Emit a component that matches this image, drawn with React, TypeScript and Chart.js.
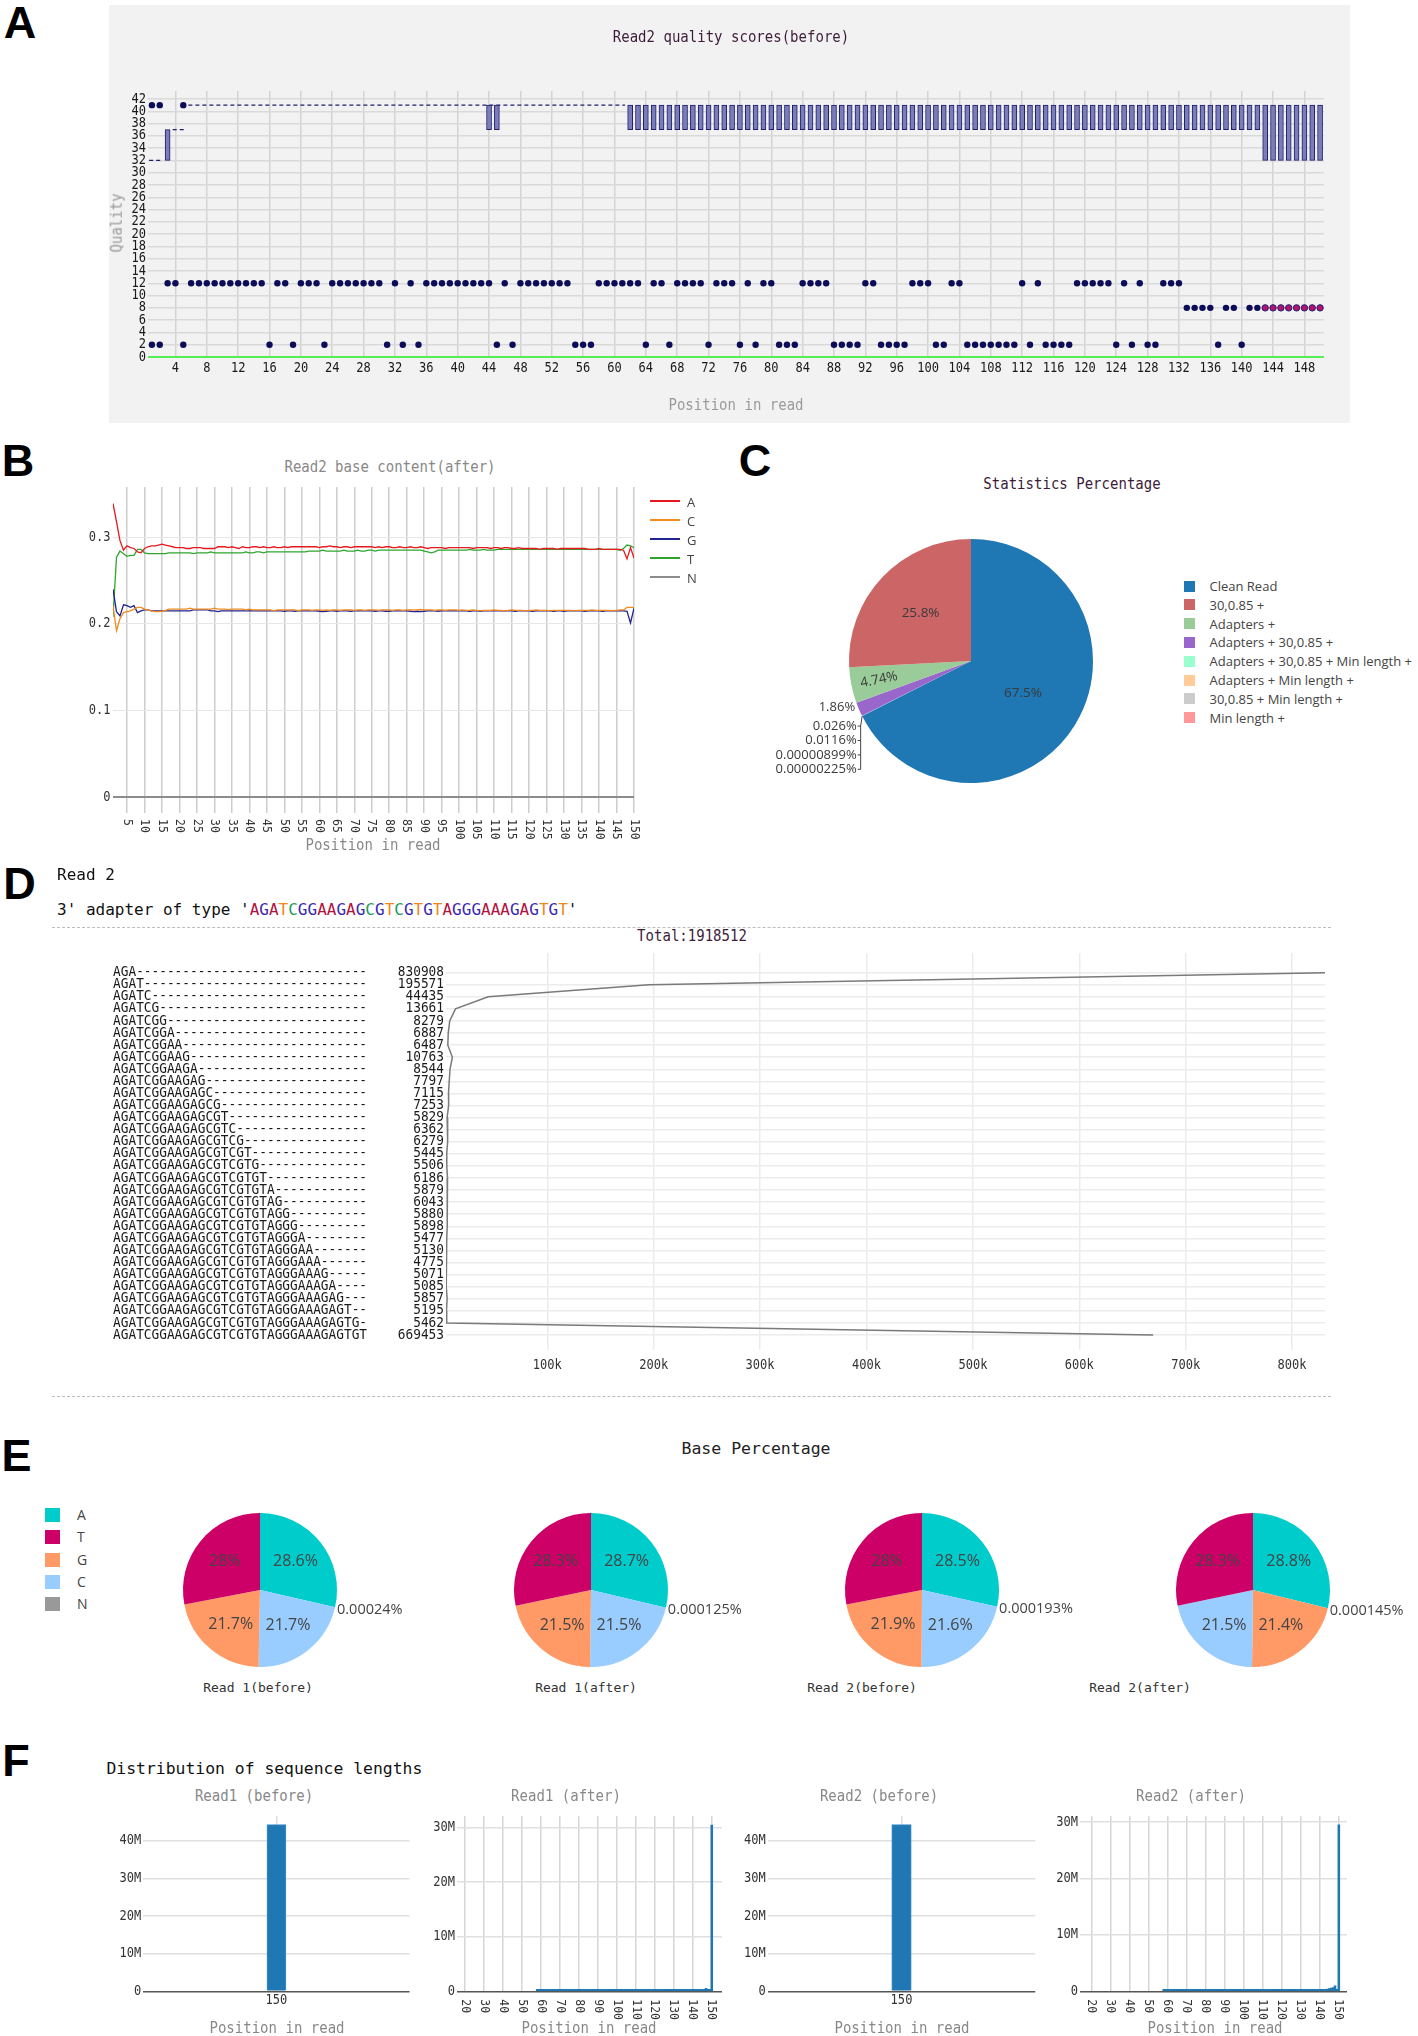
import React, { useEffect, useRef } from 'react';
import { Chart, registerables } from 'chart.js';

Chart.register(...registerables);

const MONO = '"DejaVu Sans Mono", "Liberation Mono", monospace';
const SANS = '"Open Sans", "DejaVu Sans", sans-serif';
const HEAD = '"Liberation Sans", Arial, sans-serif';

// ---------------- Panel A: Read2 quality scores (before) ----------------
const qualityXTicks = [4, 8, 12, 16, 20, 24, 28, 32, 36, 40, 44, 48, 52, 56, 60, 64, 68, 72, 76, 80, 84, 88, 92, 96, 100, 104, 108, 112, 116, 120, 124, 128, 132, 136, 140, 144, 148];
const qualityYTicks = [0, 2, 4, 6, 8, 10, 12, 14, 16, 18, 20, 22, 24, 26, 28, 30, 32, 34, 36, 38, 40, 42];
// [first position, last position, Q1, Q3]
const qualityBoxRuns = [[3, 3, 32, 37], [44, 45, 37, 41], [62, 142, 37, 41], [143, 150, 32, 41]];
// positions where the box collapses to one value: [first, last, value]
const qualityFlatRuns = [[1, 2, 32], [4, 5, 37], [6, 61, 41]];
const outliersQ41 = [1, 2, 5];
const outliersQ12 = [3, 4, 6, 7, 8, 9, 10, 11, 12, 13, 14, 15, 17, 18, 20, 21, 22, 24, 25, 26, 27, 28, 29, 30, 32, 34, 36, 37, 38, 39, 40, 41, 42, 43, 44, 46, 48, 49, 50, 51, 52, 53, 54, 58, 59, 60, 61, 62, 63, 65, 66, 68, 69, 70, 71, 73, 74, 75, 77, 79, 80, 84, 85, 86, 87, 92, 93, 98, 99, 100, 103, 104, 112, 114, 119, 120, 121, 122, 123, 125, 127, 130, 131, 132];
const outliersQ8 = [133, 134, 135, 136, 138, 139, 141, 142];
const outliersQ8Tail = [143, 144, 145, 146, 147, 148, 149, 150];
const outliersQ2 = [1, 2, 5, 16, 19, 23, 31, 33, 35, 45, 47, 55, 56, 57, 64, 67, 72, 76, 78, 81, 82, 83, 88, 89, 90, 91, 94, 95, 96, 97, 101, 102, 105, 106, 107, 108, 109, 110, 111, 113, 115, 116, 117, 118, 124, 126, 128, 129, 137, 140];

// ---------------- Panel B: Read2 base content (after) ----------------
const contentXTicks = [5, 10, 15, 20, 25, 30, 35, 40, 45, 50, 55, 60, 65, 70, 75, 80, 85, 90, 95, 100, 105, 110, 115, 120, 125, 130, 135, 140, 145, 150];
const contentYTicks = [0, 0.1, 0.2, 0.3];
const contentA = [
  0.339, 0.318, 0.296, 0.285, 0.290, 0.288, 0.287, 0.283, 0.282, 0.287,
  0.289, 0.290, 0.290, 0.291, 0.292, 0.291, 0.290, 0.289, 0.288, 0.288,
  0.288, 0.287, 0.287, 0.288, 0.288, 0.288, 0.287, 0.287, 0.287, 0.287,
  0.289, 0.289, 0.289, 0.288, 0.289, 0.288, 0.287, 0.289, 0.288, 0.288,
  0.289, 0.289, 0.288, 0.289, 0.288, 0.288, 0.289, 0.288, 0.288, 0.289,
  0.288, 0.289, 0.289, 0.289, 0.289, 0.289, 0.289, 0.289, 0.289, 0.288,
  0.289, 0.289, 0.290, 0.289, 0.289, 0.288, 0.289, 0.289, 0.288, 0.289,
  0.289, 0.289, 0.289, 0.289, 0.289, 0.288, 0.289, 0.288, 0.289, 0.289,
  0.288, 0.288, 0.289, 0.288, 0.288, 0.289, 0.288, 0.288, 0.289, 0.288,
  0.287, 0.288, 0.288, 0.288, 0.288, 0.287, 0.288, 0.288, 0.288, 0.288,
  0.288, 0.288, 0.288, 0.287, 0.288, 0.288, 0.288, 0.288, 0.287, 0.288,
  0.288, 0.287, 0.288, 0.288, 0.287, 0.287, 0.288, 0.287, 0.287, 0.287,
  0.287, 0.287, 0.286, 0.287, 0.287, 0.287, 0.287, 0.286, 0.287, 0.287,
  0.287, 0.287, 0.287, 0.287, 0.287, 0.287, 0.286, 0.286, 0.286, 0.287,
  0.286, 0.286, 0.286, 0.286, 0.286, 0.286, 0.285, 0.275, 0.288, 0.276,
];
const contentC = [
  0.221, 0.192, 0.206, 0.213, 0.214, 0.215, 0.217, 0.219, 0.219, 0.217,
  0.216, 0.215, 0.214, 0.214, 0.2145, 0.2155, 0.217, 0.217, 0.217, 0.217,
  0.217, 0.217, 0.218, 0.217, 0.217, 0.217, 0.217, 0.217, 0.217, 0.218,
  0.217, 0.217, 0.217, 0.2165, 0.217, 0.217, 0.217, 0.217, 0.216, 0.217,
  0.216, 0.216, 0.216, 0.216, 0.216, 0.216, 0.215, 0.216, 0.216, 0.216,
  0.216, 0.216, 0.216, 0.215, 0.216, 0.216, 0.216, 0.2155, 0.216, 0.216,
  0.2155, 0.216, 0.2155, 0.216, 0.216, 0.2155, 0.216, 0.216, 0.216, 0.2155,
  0.216, 0.216, 0.2155, 0.216, 0.216, 0.216, 0.2155, 0.216, 0.216, 0.216,
  0.2155, 0.216, 0.216, 0.2155, 0.216, 0.216, 0.216, 0.216, 0.2165, 0.216,
  0.216, 0.216, 0.2155, 0.216, 0.216, 0.2155, 0.216, 0.216, 0.216, 0.2155,
  0.216, 0.2155, 0.2155, 0.216, 0.2155, 0.215, 0.2155, 0.2155, 0.2155, 0.216,
  0.2155, 0.2155, 0.215, 0.2155, 0.216, 0.2155, 0.2155, 0.2155, 0.215, 0.2155,
  0.2155, 0.216, 0.2155, 0.2155, 0.2155, 0.215, 0.2155, 0.2155, 0.2155, 0.2155,
  0.2155, 0.2155, 0.215, 0.2155, 0.2155, 0.2155, 0.2155, 0.216, 0.2155, 0.2155,
  0.2155, 0.2155, 0.2155, 0.215, 0.2155, 0.216, 0.216, 0.219, 0.219, 0.219,
];
const contentG = [
  0.240, 0.214, 0.209, 0.222, 0.221, 0.219, 0.221, 0.213, 0.215, 0.216,
  0.216, 0.215, 0.215, 0.215, 0.215, 0.215, 0.215, 0.215, 0.215, 0.215,
  0.215, 0.215, 0.215, 0.216, 0.216, 0.216, 0.216, 0.216, 0.215, 0.215,
  0.214, 0.215, 0.215, 0.215, 0.215, 0.215, 0.215, 0.215, 0.215, 0.215,
  0.215, 0.215, 0.215, 0.215, 0.215, 0.215, 0.215, 0.215, 0.215, 0.2145,
  0.215, 0.215, 0.2145, 0.215, 0.215, 0.215, 0.215, 0.215, 0.215, 0.2145,
  0.214, 0.2145, 0.215, 0.215, 0.2145, 0.215, 0.215, 0.215, 0.2145, 0.215,
  0.215, 0.215, 0.215, 0.215, 0.215, 0.2145, 0.215, 0.215, 0.2145, 0.2145,
  0.215, 0.215, 0.215, 0.215, 0.215, 0.2145, 0.214, 0.2145, 0.214, 0.2145,
  0.215, 0.215, 0.215, 0.2145, 0.215, 0.215, 0.215, 0.215, 0.215, 0.215,
  0.215, 0.215, 0.2145, 0.215, 0.215, 0.2145, 0.215, 0.215, 0.215, 0.215,
  0.215, 0.215, 0.215, 0.215, 0.215, 0.2145, 0.215, 0.215, 0.215, 0.215,
  0.2145, 0.215, 0.215, 0.215, 0.215, 0.215, 0.2145, 0.215, 0.215, 0.2145,
  0.215, 0.215, 0.215, 0.215, 0.215, 0.2145, 0.215, 0.215, 0.215, 0.215,
  0.2145, 0.215, 0.215, 0.215, 0.215, 0.215, 0.215, 0.2145, 0.201, 0.218,
];
const contentT = [
  0.208, 0.277, 0.284, 0.281, 0.278, 0.279, 0.279, 0.286, 0.286, 0.282,
  0.281, 0.281, 0.281, 0.281, 0.281, 0.281, 0.282, 0.282, 0.282, 0.282,
  0.282, 0.282, 0.282, 0.281, 0.282, 0.282, 0.282, 0.282, 0.283, 0.282,
  0.282, 0.282, 0.282, 0.282, 0.282, 0.282, 0.282, 0.282, 0.283, 0.282,
  0.282, 0.283, 0.283, 0.282, 0.283, 0.283, 0.283, 0.283, 0.283, 0.283,
  0.283, 0.283, 0.283, 0.283, 0.283, 0.283, 0.284, 0.284, 0.284, 0.284,
  0.285, 0.284, 0.284, 0.284, 0.284, 0.284, 0.285, 0.284, 0.284, 0.284,
  0.285, 0.284, 0.284, 0.285, 0.285, 0.284, 0.285, 0.285, 0.285, 0.285,
  0.285, 0.285, 0.285, 0.285, 0.285, 0.285, 0.285, 0.285, 0.285, 0.284,
  0.283, 0.282, 0.283, 0.285, 0.285, 0.285, 0.285, 0.285, 0.285, 0.285,
  0.285, 0.285, 0.286, 0.285, 0.285, 0.285, 0.286, 0.285, 0.285, 0.285,
  0.286, 0.286, 0.286, 0.286, 0.286, 0.286, 0.286, 0.286, 0.286, 0.286,
  0.286, 0.286, 0.286, 0.286, 0.286, 0.286, 0.286, 0.286, 0.286, 0.286,
  0.286, 0.286, 0.286, 0.286, 0.286, 0.286, 0.286, 0.286, 0.286, 0.286,
  0.286, 0.286, 0.286, 0.286, 0.286, 0.285, 0.287, 0.291, 0.290, 0.288,
];
const contentN = [
  0, 0, 0, 0, 0, 0, 0, 0, 0, 0, 0, 0, 0, 0, 0, 0, 0, 0, 0, 0, 0, 0, 0, 0, 0,
  0, 0, 0, 0, 0, 0, 0, 0, 0, 0, 0, 0, 0, 0, 0, 0, 0, 0, 0, 0, 0, 0, 0, 0, 0,
  0, 0, 0, 0, 0, 0, 0, 0, 0, 0, 0, 0, 0, 0, 0, 0, 0, 0, 0, 0, 0, 0, 0, 0, 0,
  0, 0, 0, 0, 0, 0, 0, 0, 0, 0, 0, 0, 0, 0, 0, 0, 0, 0, 0, 0, 0, 0, 0, 0, 0,
  0, 0, 0, 0, 0, 0, 0, 0, 0, 0, 0, 0, 0, 0, 0, 0, 0, 0, 0, 0, 0, 0, 0, 0, 0,
  0, 0, 0, 0, 0, 0, 0, 0, 0, 0, 0, 0, 0, 0, 0, 0, 0, 0, 0, 0, 0, 0, 0, 0, 0,
];
const contentSeries = [
  { name: 'A', values: contentA, color: '#e5191d' },
  { name: 'C', values: contentC, color: '#f28a1e' },
  { name: 'G', values: contentG, color: '#232390' },
  { name: 'T', values: contentT, color: '#2ea62e' },
  { name: 'N', values: contentN, color: '#8c8c8c' },
];

// ---------------- Panel C: Statistics Percentage ----------------
const statLabels = ['Clean Read', '30,0.85 +', 'Adapters +', 'Adapters + 30,0.85 +', 'Adapters + 30,0.85 + Min length +', 'Adapters + Min length +', '30,0.85 + Min length +', 'Min length +'];
const statPercent = [67.5, 25.8, 4.74, 1.86, 0.026, 0.0116, 0.00000899, 0.00000225];
const statColors = ['#1f77b4', '#cc6666', '#99cc99', '#9966cc', '#99ffcc', '#ffcc99', '#cccccc', '#ff9999'];
const statDrawOrder = [0, 7, 6, 5, 4, 3, 2, 1];

// ---------------- Panel D: adapter ----------------
const adapterSeq = 'AGATCGGAAGAGCGTCGTGTAGGGAAAGAGTGT';
const adapterLetterColors: Record<string, string> = { A: '#b5123c', G: '#3a2bb0', C: '#1e9e5a', T: '#f0861a' };
const adapterPrefixes = [
  'AGA', 'AGAT', 'AGATC', 'AGATCG', 'AGATCGG', 'AGATCGGA', 'AGATCGGAA', 'AGATCGGAAG',
  'AGATCGGAAGA', 'AGATCGGAAGAG', 'AGATCGGAAGAGC', 'AGATCGGAAGAGCG', 'AGATCGGAAGAGCGT',
  'AGATCGGAAGAGCGTC', 'AGATCGGAAGAGCGTCG', 'AGATCGGAAGAGCGTCGT', 'AGATCGGAAGAGCGTCGTG',
  'AGATCGGAAGAGCGTCGTGT', 'AGATCGGAAGAGCGTCGTGTA', 'AGATCGGAAGAGCGTCGTGTAG',
  'AGATCGGAAGAGCGTCGTGTAGG', 'AGATCGGAAGAGCGTCGTGTAGGG', 'AGATCGGAAGAGCGTCGTGTAGGGA',
  'AGATCGGAAGAGCGTCGTGTAGGGAA', 'AGATCGGAAGAGCGTCGTGTAGGGAAA', 'AGATCGGAAGAGCGTCGTGTAGGGAAAG',
  'AGATCGGAAGAGCGTCGTGTAGGGAAAGA', 'AGATCGGAAGAGCGTCGTGTAGGGAAAGAG', 'AGATCGGAAGAGCGTCGTGTAGGGAAAGAGT',
  'AGATCGGAAGAGCGTCGTGTAGGGAAAGAGTG', 'AGATCGGAAGAGCGTCGTGTAGGGAAAGAGTGT',
];
const adapterCounts = [830908, 195571, 44435, 13661, 8279, 6887, 6487, 10763, 8544, 7797, 7115, 7253, 5829, 6362, 6279, 5445, 5506, 6186, 5879, 6043, 5880, 5898, 5477, 5130, 4775, 5071, 5085, 5857, 5195, 5462, 669453];
const adapterTotal = 1918512;
const adapterXTicks = [100000, 200000, 300000, 400000, 500000, 600000, 700000, 800000];

// ---------------- Panel E: Base Percentage ----------------
const baseReads = ['Read 1(before)', 'Read 1(after)', 'Read 2(before)', 'Read 2(after)'];
const baseA = [28.6, 28.7, 28.5, 28.8];
const baseT = [28, 28.3, 28, 28.3];
const baseG = [21.7, 21.5, 21.9, 21.4];
const baseC = [21.7, 21.5, 21.6, 21.5];
const baseN = [0.00024, 0.000125, 0.000193, 0.000145];
const baseLegend = ['A', 'T', 'G', 'C', 'N'];
const baseColors: Record<string, string> = { A: '#00cccc', T: '#cc0066', G: '#ff9966', C: '#99ccff', N: '#999999' };
const baseSliceOrder = [['A', 'N', 'C', 'G', 'T'], ['A', 'N', 'C', 'G', 'T'], ['A', 'N', 'C', 'G', 'T'], ['A', 'N', 'G', 'C', 'T']];

// ---------------- Panel F: Distribution of sequence lengths ----------------
const lengthBefore = 150;
const read1BeforeCount = 44300000;
const read2BeforeCount = 44300000;
const afterFirstLength = 58;
const read1AfterCounts = [
  18400, 15200, 16900, 14700, 17300, 15800, 16200, 19100, 15400, 17700,
  16600, 18200, 17100, 15900, 19400, 16800, 18700, 17500, 20100, 18300,
  19800, 17900, 21200, 19300, 18600, 22400, 20500, 19700, 23100, 21800,
  20900, 24300, 22600, 21400, 25200, 23700, 22100, 26400, 24800, 23300,
  27600, 25100, 26900, 28300, 25700, 29800, 27400, 30600, 28900, 31700,
  29300, 33100, 30800, 34600, 32200, 35900, 33700, 37800, 35200, 39400,
  36900, 41800, 38700, 43600, 40900, 46200, 44100, 49800, 47300, 53600,
  51200, 58400, 55900, 63700, 61200, 70400, 68900, 79100, 76800, 91300,
  88700, 104600, 118200, 137900, 163400, 196800, 241500, 298700, 372900,
  560000, 230000, 140000, 30420000,
];
const read2AfterCounts = [
  16900, 14300, 17800, 15600, 16100, 18900, 14800, 17200, 16400, 19300,
  17600, 15900, 18800, 17300, 19900, 16700, 20400, 18100, 19500, 21700,
  18900, 22300, 20600, 19800, 23500, 21900, 20700, 24800, 22400, 21300,
  25900, 23800, 22700, 27100, 24600, 26300, 28800, 25400, 27700, 30200,
  26800, 29600, 31900, 28700, 33400, 30500, 35100, 32600, 37300, 34800,
  39200, 36100, 41700, 38900, 44300, 40600, 47200, 43800, 50500, 46900,
  54100, 50700, 58300, 55200, 62800, 59600, 68400, 65100, 74900, 71300,
  82600, 78400, 91800, 87200, 102500, 97600, 115300, 109800, 131200, 146700,
  139500, 168300, 193900, 227400, 268600, 318900, 382700, 461200, 557300,
  640000, 950000, 310000, 29500000,
];
const lengthTicks = [20, 30, 40, 50, 60, 70, 80, 90, 100, 110, 120, 130, 140, 150];
const countTicksBefore = [0, 10000000, 20000000, 30000000, 40000000];
const countTicksAfter = [0, 10000000, 20000000, 30000000];

// ---------------- helpers ----------------
const span = (a: number, b: number) => { const r: number[] = []; for (let i = a; i <= b; i++) r.push(i); return r; };
const setTicks = (vals: number[]) => (s: any) => { s.ticks = vals.map((value) => ({ value })); };
const fixW = (w: number) => (s: any) => { s.width = w; };
const fixH = (h: number) => (s: any) => { s.height = h; };
const fmtM = (v: any) => (Number(v) === 0 ? '0' : `${Number(v) / 1e6}M`);
const fmtPlain = (v: any) => String(v);

const TICK_SIZE = 13.7;
const TICK_SX = 0.88;

const common = (padding: any) => ({
  responsive: false,
  maintainAspectRatio: false,
  animation: false,
  devicePixelRatio: 1,
  events: [],
  layout: { padding },
  plugins: { legend: { display: false }, tooltip: { enabled: false }, title: { display: false } },
});

// Draws tick labels in a slightly condensed monospace face (the labels of the original are narrow).
// spec: { axis, mode: 'left' | 'bottom' | 'bottomRot', pad, format, size?, sx?, color? }
const condensedTicks = (specs: any[]) => ({
  id: 'condensedTicks',
  afterDraw(chart: any) {
    const ctx = chart.ctx;
    for (const sp of specs) {
      const sc = chart.scales[sp.axis];
      const size = sp.size ?? TICK_SIZE;
      const sx = sp.sx ?? TICK_SX;
      ctx.save();
      ctx.font = `${size}px ${MONO}`;
      ctx.fillStyle = sp.color ?? '#2a2a2a';
      ctx.textBaseline = 'middle';
      for (const t of sc.ticks) {
        const label = sp.format(t.value);
        const p = sc.getPixelForValue(t.value);
        ctx.save();
        if (sp.mode === 'left') {
          ctx.translate(sc.right - sp.pad, p);
          ctx.scale(sx, 1);
          ctx.textAlign = 'right';
        } else if (sp.mode === 'bottomRot') {
          ctx.translate(p, sc.top + sp.pad);
          ctx.rotate(Math.PI / 2);
          ctx.scale(sx, 1);
          ctx.textAlign = 'left';
        } else {
          ctx.translate(p, sc.top + sp.pad);
          ctx.scale(sx, 1);
          ctx.textAlign = 'center';
        }
        ctx.fillText(label, 0, 0);
        ctx.restore();
      }
      ctx.restore();
    }
  },
});

function ChartBox({ x, y, w, h, config }: { x: number; y: number; w: number; h: number; config: () => any }) {
  const ref = useRef<HTMLCanvasElement | null>(null);
  useEffect(() => {
    if (!ref.current) return undefined;
    const chart = new Chart(ref.current, config());
    return () => chart.destroy();
  }, []);
  return <canvas ref={ref} width={w} height={h} style={{ position: 'absolute', left: x, top: y, width: w, height: h }} />;
}

function T({ x, y, size, color = '#222', font = MONO, weight = 400, align = 'center', rotate = 0, sx = 1, children }: any) {
  const tx = align === 'center' ? '-50%' : align === 'right' ? '-100%' : '0%';
  const origin = align === 'center' ? 'center center' : align === 'right' ? 'right center' : 'left center';
  return (
    <div
      style={{
        position: 'absolute', left: x, top: y,
        transform: `translate(${tx}, -50%)` + (rotate ? ` rotate(${rotate}deg)` : '') + (sx !== 1 ? ` scaleX(${sx})` : ''),
        transformOrigin: origin,
        fontFamily: font, fontSize: size, fontWeight: weight, color, lineHeight: 1, whiteSpace: 'pre',
      }}
    >
      {children}
    </div>
  );
}

// plotly-style titles: narrow monospace
const TT = (props: any) => <T size={16.5} sx={0.85} {...props} />;

// ---------------- chart configs ----------------
function qualityConfig() {
  const boxes = qualityBoxRuns.flatMap(([a, b, lo, hi]) => span(a, b).map((p) => ({ x: p, y: [lo, hi] })));
  const dots = (ps: number[], q: number) => ps.map((p) => ({ x: p, y: q }));
  const navy = '#1e1e6c';
  return {
    type: 'bar',
    data: {
      datasets: [
        { type: 'line', data: dots(outliersQ8Tail, 8), showLine: false, pointRadius: 3.2, pointBackgroundColor: '#b3136f', pointBorderColor: navy, pointBorderWidth: 1 },
        { type: 'line', data: [...dots(outliersQ41, 41), ...dots(outliersQ12, 12), ...dots(outliersQ8, 8), ...dots(outliersQ2, 2)], showLine: false, pointRadius: 3.2, pointBackgroundColor: '#0c0c58', pointBorderColor: '#0c0c58', pointBorderWidth: 0 },
        { type: 'bar', data: boxes, backgroundColor: '#7b7db9', borderColor: navy, borderWidth: 1, barThickness: 5, borderSkipped: false },
        ...qualityFlatRuns.map(([a, b, q]) => ({
          type: 'line', data: [{ x: a - 0.35, y: q }, { x: b + 0.35, y: q }], borderColor: navy, borderWidth: 1.3, borderDash: [4, 3], pointRadius: 0,
        })),
      ],
    },
    options: {
      ...common({ top: 86, right: 26, left: 0, bottom: 0 }),
      scales: {
        x: {
          type: 'linear', min: 0.5, max: 150.5, offset: false,
          afterBuildTicks: setTicks(qualityXTicks), afterFit: fixH(66),
          grid: { color: '#d3d3d3', lineWidth: 1.5, drawTicks: false, offset: false },
          border: { display: false },
          ticks: { display: false },
        },
        y: {
          type: 'linear', min: 0, max: 43.3,
          afterBuildTicks: setTicks(qualityYTicks), afterFit: fixW(39),
          grid: {
            color: (c: any) => (c.tick && c.tick.value === 0 ? '#55ee55' : '#d9d9d9'),
            lineWidth: (c: any) => (c.tick && c.tick.value === 0 ? 2 : 1.5),
            drawTicks: false,
          },
          border: { display: false },
          ticks: { display: false },
        },
      },
    },
    plugins: [condensedTicks([
      { axis: 'y', mode: 'left', pad: 2, format: fmtPlain, color: '#1a1a1a' },
      { axis: 'x', mode: 'bottom', pad: 11, format: fmtPlain, color: '#1a1a1a' },
    ])],
  };
}

function contentConfig() {
  return {
    type: 'line',
    data: {
      datasets: contentSeries.map((s) => ({
        label: s.name,
        data: s.values.map((v, i) => ({ x: i + 1, y: v })),
        borderColor: s.color, borderWidth: 1.3, pointRadius: 0, fill: false,
      })),
    },
    options: {
      ...common({ top: 7, right: 66, left: 0, bottom: 0 }),
      scales: {
        x: {
          type: 'linear', min: 1, max: 150,
          afterBuildTicks: setTicks(contentXTicks), afterFit: fixH(57),
          grid: { color: '#cdcdcd', lineWidth: 1.5, drawTicks: false },
          border: { display: false },
          ticks: { display: false },
        },
        y: {
          type: 'linear', min: -0.0185, max: 0.358,
          afterBuildTicks: setTicks(contentYTicks), afterFit: fixW(53),
          grid: {
            color: (c: any) => (c.tick && c.tick.value === 0 ? '#8a8a8a' : '#e6e6e6'),
            lineWidth: (c: any) => (c.tick && c.tick.value === 0 ? 2 : 1),
            drawTicks: false,
          },
          border: { display: false },
          ticks: { display: false },
        },
      },
    },
    plugins: [condensedTicks([
      { axis: 'y', mode: 'left', pad: 2.5, format: fmtPlain, color: '#333' },
      { axis: 'x', mode: 'bottomRot', pad: 6, format: fmtPlain, color: '#333', size: 13 },
    ])],
  };
}

const statsLabelPlugin = {
  id: 'statsLabels',
  afterDatasetsDraw(chart: any) {
    const ctx = chart.ctx;
    const meta = chart.getDatasetMeta(0);
    const values = chart.data.datasets[0].data as number[];
    ctx.save();
    ctx.fillStyle = '#3a3a3a';
    ctx.font = `13.5px ${SANS}`;
    ctx.textBaseline = 'middle';
    ctx.textAlign = 'center';
    meta.data.forEach((arc: any, i: number) => {
      const v = values[i];
      if (v < 4) return;
      const p = arc.getProps(['x', 'y', 'startAngle', 'endAngle', 'outerRadius'], true);
      const mid = (p.startAngle + p.endAngle) / 2;
      const f = v > 50 ? 0.5 : v > 10 ? 0.57 : 0.77;
      ctx.save();
      ctx.translate(p.x + Math.cos(mid) * p.outerRadius * f, p.y + Math.sin(mid) * p.outerRadius * f);
      if (v < 10) ctx.rotate(mid - Math.PI);
      ctx.fillText(`${v}%`, 0, 0);
      ctx.restore();
    });
    // outside labels for the thin slices
    const first = meta.data[0].getProps(['x', 'y', 'endAngle', 'outerRadius'], true);
    const ax = first.x + Math.cos(first.endAngle) * first.outerRadius;
    const ay = first.y + Math.sin(first.endAngle) * first.outerRadius;
    ctx.font = `13px ${SANS}`;
    ctx.textAlign = 'right';
    const mids = values.filter((v) => v >= 1 && v < 4);
    mids.forEach((v) => ctx.fillText(`${v}%`, ax - 7, ay - 8.5));
    const tiny = values.filter((v) => v < 1).sort((a, b) => b - a);
    const lx = ax - 1.5;
    ctx.strokeStyle = '#444';
    ctx.lineWidth = 1;
    ctx.beginPath();
    ctx.moveTo(ax, ay);
    ctx.lineTo(lx, ay + 10);
    ctx.lineTo(lx, ay + 10 + (tiny.length - 1) * 14.4);
    ctx.stroke();
    tiny.forEach((v, k) => {
      const ry = ay + 10 + k * 14.4;
      ctx.beginPath();
      ctx.moveTo(lx, ry);
      ctx.lineTo(lx - 3, ry);
      ctx.stroke();
      ctx.fillText(`${v}%`, lx - 4, ry);
    });
    ctx.restore();
  },
};

function statsConfig() {
  return {
    type: 'pie',
    data: {
      labels: statDrawOrder.map((i) => statLabels[i]),
      datasets: [{
        data: statDrawOrder.map((i) => statPercent[i]),
        backgroundColor: statDrawOrder.map((i) => statColors[i]),
        borderWidth: 0,
      }],
    },
    options: { ...common({ left: 109, top: 19, right: 27, bottom: 27 }) },
    plugins: [statsLabelPlugin],
  };
}

function adapterConfig() {
  const rowLabel = (i: number) => `${adapterPrefixes[i].padEnd(adapterSeq.length, '-')}    ${String(adapterCounts[i]).padStart(6, ' ')}`;
  return {
    type: 'scatter',
    data: {
      datasets: [{
        data: adapterCounts.map((c, i) => ({ x: c, y: i })),
        showLine: true, borderColor: '#7a7a7a', borderWidth: 1.5, pointRadius: 0,
      }],
    },
    options: {
      ...common({ top: 8, right: 15, left: 0, bottom: 0 }),
      scales: {
        x: {
          type: 'linear', min: Math.min(...adapterCounts), max: Math.max(...adapterCounts),
          afterBuildTicks: setTicks(adapterXTicks), afterFit: fixH(35),
          grid: { color: '#ebebeb', lineWidth: 1.5, drawTicks: false },
          border: { display: false },
          ticks: { display: false },
        },
        y: {
          type: 'linear', reverse: true, min: -1.63, max: 31.24,
          afterBuildTicks: (s: any) => { s.ticks = adapterCounts.map((_, i) => ({ value: i })); },
          afterFit: fixW(396),
          grid: { color: '#ececec', lineWidth: 1.5, drawTicks: false },
          border: { display: false },
          ticks: { display: false },
        },
      },
    },
    plugins: [condensedTicks([
      { axis: 'y', mode: 'left', pad: 2, format: (v: any) => rowLabel(Number(v)), color: '#1a1a1a', sx: 0.934 },
      { axis: 'x', mode: 'bottom', pad: 15, format: (v: any) => `${Number(v) / 1000}k`, color: '#333' },
    ])],
  };
}

const basePiePlugin = {
  id: 'baseLabels',
  afterDatasetsDraw(chart: any) {
    const ctx = chart.ctx;
    const meta = chart.getDatasetMeta(0);
    const values = chart.data.datasets[0].data as number[];
    ctx.save();
    ctx.fillStyle = '#444';
    ctx.textBaseline = 'middle';
    meta.data.forEach((arc: any, i: number) => {
      const v = values[i];
      const p = arc.getProps(['x', 'y', 'startAngle', 'endAngle', 'outerRadius'], true);
      const mid = (p.startAngle + p.endAngle) / 2;
      if (v >= 1) {
        ctx.font = `16px ${SANS}`;
        ctx.textAlign = 'center';
        ctx.fillText(`${v}%`, p.x + Math.cos(mid) * p.outerRadius * 0.59, p.y + Math.sin(mid) * p.outerRadius * 0.59);
      } else {
        ctx.font = `14.5px ${SANS}`;
        ctx.textAlign = 'left';
        ctx.fillText(`${v}%`, p.x + Math.cos(mid) * (p.outerRadius + 2), p.y + Math.sin(mid) * (p.outerRadius + 2) + 2);
      }
    });
    ctx.restore();
  },
};

function baseConfig(k: number) {
  const byBase: Record<string, number> = { A: baseA[k], T: baseT[k], G: baseG[k], C: baseC[k], N: baseN[k] };
  const order = baseSliceOrder[k];
  return {
    type: 'pie',
    data: {
      labels: order,
      datasets: [{ data: order.map((b) => byBase[b]), backgroundColor: order.map((b) => baseColors[b]), borderWidth: 0 }],
    },
    options: { ...common({ left: 13, top: 3, right: 103, bottom: 3 }) },
    plugins: [basePiePlugin],
  };
}

function lengthBeforeConfig(count: number, yWidth: number, right: number, thick: number) {
  return {
    type: 'bar',
    data: { datasets: [{ data: [{ x: lengthBefore, y: count }], backgroundColor: '#1f77b4', borderColor: '#3f8fc6', borderWidth: 1, barThickness: thick }] },
    options: {
      ...common({ top: 10, right, left: 0, bottom: 0 }),
      scales: {
        x: {
          type: 'linear', min: 144.4, max: 155.6, offset: false,
          afterBuildTicks: setTicks([lengthBefore]), afterFit: fixH(34.7),
          grid: { color: '#dedede', lineWidth: 1.5, drawTicks: false, offset: false },
          border: { display: false },
          ticks: { display: false },
        },
        y: {
          type: 'linear', min: 0, max: 46600000,
          afterBuildTicks: setTicks(countTicksBefore), afterFit: fixW(yWidth),
          grid: {
            color: (c: any) => (c.tick && c.tick.value === 0 ? '#555' : '#e0e0e0'),
            lineWidth: 1.5, drawTicks: false,
          },
          border: { display: false },
          ticks: { display: false },
        },
      },
    },
    plugins: [condensedTicks([
      { axis: 'y', mode: 'left', pad: 2, format: fmtM, color: '#333' },
      { axis: 'x', mode: 'bottom', pad: 9.5, format: fmtPlain, color: '#333' },
    ])],
  };
}

function lengthAfterConfig(counts: number[], yMax: number, xMin: number, xMax: number, yWidth: number, right: number) {
  return {
    type: 'bar',
    data: {
      datasets: [{
        data: counts.map((c, i) => ({ x: afterFirstLength + i, y: c })),
        backgroundColor: '#1f77b4', borderWidth: 0, barPercentage: 1, categoryPercentage: 1, minBarLength: 2,
      }],
    },
    options: {
      ...common({ top: 10, right, left: 0, bottom: 0 }),
      scales: {
        x: {
          type: 'linear', min: xMin, max: xMax, offset: false,
          afterBuildTicks: setTicks(lengthTicks), afterFit: fixH(34.7),
          grid: { color: '#d6d6d6', lineWidth: 1.5, drawTicks: false, offset: false },
          border: { display: false },
          ticks: { display: false },
        },
        y: {
          type: 'linear', min: 0, max: yMax,
          afterBuildTicks: setTicks(countTicksAfter), afterFit: fixW(yWidth),
          grid: {
            color: (c: any) => (c.tick && c.tick.value === 0 ? '#555' : '#e0e0e0'),
            lineWidth: 1.5, drawTicks: false,
          },
          border: { display: false },
          ticks: { display: false },
        },
      },
    },
    plugins: [condensedTicks([
      { axis: 'y', mode: 'left', pad: 2, format: fmtM, color: '#333' },
      { axis: 'x', mode: 'bottomRot', pad: 8, format: fmtPlain, color: '#333', size: 13 },
    ])],
  };
}

// ---------------- layout ----------------
const pieCenters = [260.4, 591.4, 922.4, 1252.5];
const pieTitleX = [258, 586, 862, 1140];

export default function App() {
  const title = '#3d1c3a';
  return (
    <div style={{ position: 'absolute', left: 0, top: 0, width: 1418, height: 2036, overflow: 'hidden', background: '#fff' }}>
      {/* Panel A */}
      <div style={{ position: 'absolute', left: 109, top: 5, width: 1241, height: 418, background: '#f2f2f2' }} />
      <ChartBox x={109} y={5} w={1241} h={418} config={qualityConfig} />

      {/* Panel B */}
      <ChartBox x={60} y={480} w={640} h={390} config={contentConfig} />

      {/* Panel C */}
      <ChartBox x={740} y={520} w={380} h={290} config={statsConfig} />

      {/* Panel D */}
      <ChartBox x={50} y={945} w={1290} h={440} config={adapterConfig} />

      {/* Panel E */}
      {pieCenters.map((cx, k) => (
        <ChartBox key={k} x={cx - 90} y={1510} w={270} h={160} config={() => baseConfig(k)} />
      ))}

      {/* Panel F */}
      <ChartBox x={100} y={1806} w={320} h={220} config={() => lengthBeforeConfig(read1BeforeCount, 43.3, 10.4, 19)} />
      <ChartBox x={410} y={1806} w={320} h={220} config={() => lengthAfterConfig(read1AfterCounts, 32070000, 15.7, 155.4, 47, 8)} />
      <ChartBox x={720} y={1806} w={325} h={220} config={() => lengthBeforeConfig(read2BeforeCount, 47.8, 9.8, 19.5)} />
      <ChartBox x={1035} y={1806} w={320} h={220} config={() => lengthAfterConfig(read2AfterCounts, 31080000, 14, 154.3, 45, 8)} />

      {/* panel letters */}
      <T x={20} y={21.5} size={45} font={HEAD} weight={700} color="#000">A</T>
      <T x={18} y={460} size={45} font={HEAD} weight={700} color="#000">B</T>
      <T x={755} y={460} size={45} font={HEAD} weight={700} color="#000">C</T>
      <T x={19.5} y={883} size={45} font={HEAD} weight={700} color="#000">D</T>
      <T x={16.5} y={1455} size={45} font={HEAD} weight={700} color="#000">E</T>
      <T x={16} y={1760} size={45} font={HEAD} weight={700} color="#000">F</T>

      {/* A texts */}
      <TT x={730.5} y={37} color={title}>Read2 quality scores(before)</TT>
      <T x={117} y={223} size={16.5} color="#9a9a9a" rotate={-90} sx={0.85}>Quality</T>
      <TT x={735.5} y={405} color="#9a9a9a">Position in read</TT>

      {/* B texts */}
      <TT x={390} y={467} color="#888">Read2 base content(after)</TT>
      <TT x={373} y={845} color="#888">Position in read</TT>
      {contentSeries.map((s, i) => (
        <React.Fragment key={s.name}>
          <div style={{ position: 'absolute', left: 650, top: 501 + i * 18.9 - 1, width: 30, height: 2, background: s.color }} />
          <T x={687} y={502 + i * 18.9} size={13} font={SANS} color="#444" align="left">{s.name}</T>
        </React.Fragment>
      ))}

      {/* C texts */}
      <TT x={1072} y={484} color={title}>Statistics Percentage</TT>
      {statLabels.map((lab, i) => (
        <React.Fragment key={lab}>
          <div style={{ position: 'absolute', left: 1184, top: 586 + i * 18.8 - 5.5, width: 11, height: 11, background: statColors[i] }} />
          <T x={1209.5} y={586 + i * 18.8} size={13} font={SANS} color="#444" align="left">{lab}</T>
        </React.Fragment>
      ))}

      {/* D texts */}
      <T x={57} y={875} size={16} color="#111" align="left">Read 2</T>
      <T x={57} y={910} size={16} color="#111" align="left">
        {"3' adapter of type '"}
        {adapterSeq.split('').map((ch, i) => (
          <span key={i} style={{ color: adapterLetterColors[ch] }}>{ch}</span>
        ))}
        {"'"}
      </T>
      <div style={{ position: 'absolute', left: 52, top: 927, width: 1279, height: 0, borderTop: '1px dashed #bdbdbd' }} />
      <TT x={692} y={936} color={title}>{`Total:${adapterTotal}`}</TT>
      <div style={{ position: 'absolute', left: 52, top: 1396, width: 1279, height: 0, borderTop: '1px dashed #bdbdbd' }} />

      {/* E texts */}
      <T x={756} y={1449} size={16.5} color="#222">Base Percentage</T>
      {baseLegend.map((b, i) => (
        <React.Fragment key={b}>
          <div style={{ position: 'absolute', left: 45, top: 1515 + i * 22.35 - 7, width: 15, height: 14, background: baseColors[b] }} />
          <T x={77} y={1515 + i * 22.35} size={14} font={SANS} color="#444" align="left">{b}</T>
        </React.Fragment>
      ))}
      {baseReads.map((r, k) => (
        <T key={r} x={pieTitleX[k]} y={1687} size={13} color="#333">{r}</T>
      ))}

      {/* F texts */}
      <T x={106.5} y={1769} size={16.4} color="#111" align="left">Distribution of sequence lengths</T>
      <TT x={254} y={1796} color="#888">Read1 (before)</TT>
      <TT x={565.7} y={1796} color="#888">Read1 (after)</TT>
      <TT x={878.6} y={1796} color="#888">Read2 (before)</TT>
      <TT x={1191.3} y={1796} color="#888">Read2 (after)</TT>
      <TT x={277} y={2028} color="#888">Position in read</TT>
      <TT x={589} y={2028} color="#888">Position in read</TT>
      <TT x={901.5} y={2028} color="#888">Position in read</TT>
      <TT x={1215} y={2028} color="#888">Position in read</TT>
    </div>
  );
}
